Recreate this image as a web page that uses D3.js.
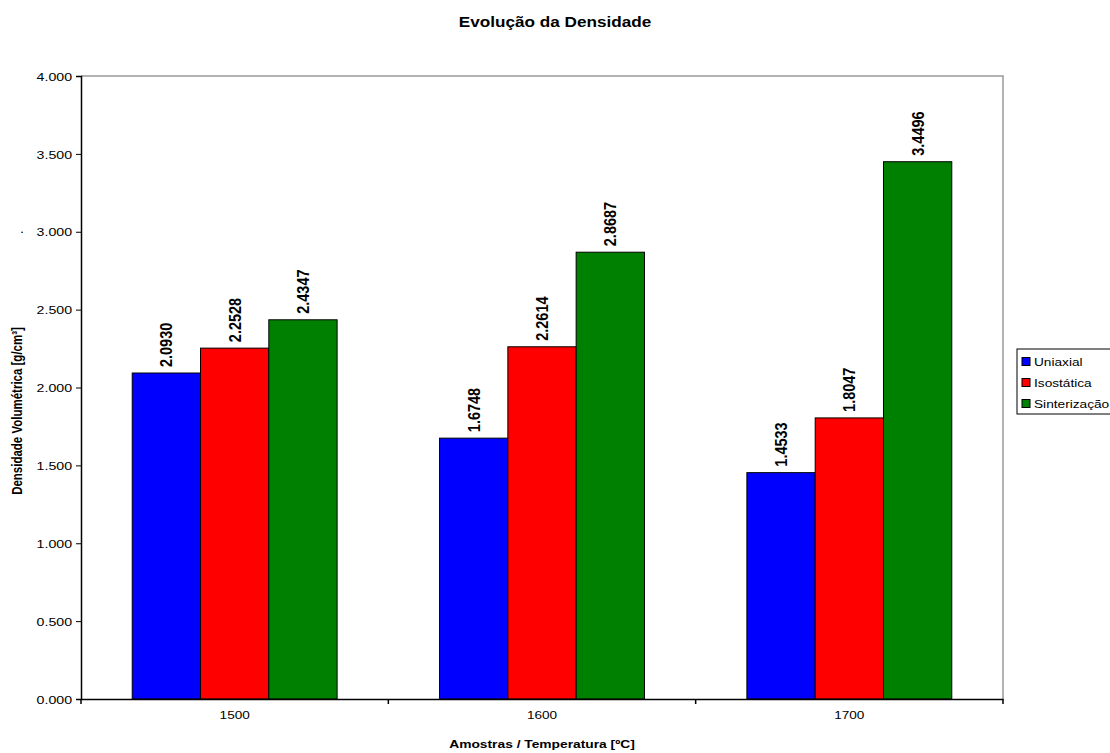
<!DOCTYPE html>
<html>
<head>
<meta charset="utf-8">
<script src="https://cdn.jsdelivr.net/npm/d3@7"></script>
<style>
  html, body { margin: 0; padding: 0; background: #fff; }
  svg { display: block; font-family: Arial, "Liberation Sans", sans-serif; }
</style>
</head>
<body>
<svg id="chart" width="1110" height="753"></svg>
<script>
// Density by sample temperature and process
const categories = ["1500", "1600", "1700"];
const seriesNames = ["Uniaxial", "Isostática", "Sinterização"];
const uniaxial = [2.0930, 1.6748, 1.4533];
const isostatica = [2.2528, 2.2614, 1.8047];
const sinterizacao = [2.4347, 2.8687, 3.4496];
const yTicks = [0, 0.5, 1, 1.5, 2, 2.5, 3, 3.5, 4];
const seriesColors = ["#0000FF", "#FF0000", "#008000"];

const seriesValues = [uniaxial, isostatica, sinterizacao];

// text in this chart is drawn slightly widened horizontally
const SX = 1.2;

const svg = d3.select("#chart");
const plot = { left: 81, right: 1003, top: 76, bottom: 699 };

const x = d3.scaleBand().domain(categories).range([plot.left, plot.right]).paddingInner(0).paddingOuter(0);
const bandW = x.bandwidth();
const barW = bandW / 4.5;
const xs = d3.scaleBand().domain(seriesNames).range([0, barW * 3]);
const groupOffset = (bandW - barW * 3) / 2;

const y = d3.scaleLinear().domain([0, 4]).range([plot.bottom, plot.top]);

function label(parent, px, py, txt, size, bold, anchor, rot) {
  return parent.append("text")
    .attr("transform", `translate(${px},${py}) scale(${SX},1)` + (rot ? ` rotate(${rot})` : ""))
    .attr("text-anchor", anchor || "start")
    .style("font-size", size + "px")
    .style("font-weight", bold ? "bold" : "normal")
    .attr("fill", "#000")
    .text(txt);
}

// plot frame (top and right edges)
svg.append("path")
  .attr("d", `M${plot.left},${plot.top}H${plot.right}V${plot.bottom}`)
  .attr("fill", "none").attr("stroke", "#999").attr("stroke-width", 1.5);

// bars
const rows = [];
categories.forEach((c, i) => seriesNames.forEach((s, j) => rows.push({ c, s, j, v: seriesValues[j][i] })));

const g = svg.append("g");
g.selectAll("rect").data(rows).join("rect")
  .attr("x", d => x(d.c) + groupOffset + xs(d.s))
  .attr("y", d => y(d.v))
  .attr("width", barW)
  .attr("height", d => y(0) - y(d.v))
  .attr("fill", d => seriesColors[d.j])
  .attr("stroke", "#000").attr("stroke-width", 1);

// value labels, vertical above each bar
rows.forEach(d => {
  const cx = x(d.c) + groupOffset + xs(d.s) + barW / 2;
  label(g, cx + 6, y(d.v) - 6, d.v.toFixed(4), 14.5, true, "start", -90);
});

// y axis
const yAxis = d3.axisLeft(y).tickValues(yTicks).tickFormat(d3.format(".3f")).tickSizeOuter(0).tickSize(5).tickPadding(0);
const ya = svg.append("g").attr("transform", `translate(${plot.left},0)`).call(yAxis);
ya.select(".domain").attr("stroke", "#000").attr("stroke-width", 1.5);
ya.selectAll(".tick line").attr("stroke", "#000");
ya.selectAll("text")
  .attr("x", 0).attr("dy", "0.35em")
  .attr("transform", `translate(-9,0) scale(${SX},1)`)
  .style("font-size", "11.8px").attr("fill", "#000");

// x axis with boundary ticks between categories
const xAxis = d3.axisBottom(x).tickSize(0).tickPadding(12);
const xa = svg.append("g").attr("transform", `translate(0,${plot.bottom})`).call(xAxis);
xa.select(".domain").attr("stroke", "#000").attr("stroke-width", 1.5);
xa.selectAll("text")
  .attr("transform", `scale(${SX},1)`)
  .style("font-size", "11.3px").attr("fill", "#000");
const bounds = categories.map(c => x(c)).concat([x(categories[categories.length - 1]) + bandW]);
xa.selectAll("line.sep").data(bounds).join("line")
  .attr("class", "sep")
  .attr("x1", d => d).attr("x2", d => d).attr("y1", 0).attr("y2", 5)
  .attr("stroke", "#000").attr("stroke-width", 1.5);

// titles
label(svg, 555, 27, "Evolução da Densidade", 14.3, true, "middle");
label(svg, (plot.left + plot.right) / 2, 748, "Amostras / Temperatura [ºC]", 11.5, true, "middle");
label(svg, 22, 411, "Densidade Volumétrica [g/cm³]", 11.5, true, "middle", -90);
label(svg, 20, 233, ".", 12, false, "start");

// legend
const lg = svg.append("g").attr("transform", "translate(1017,349)");
lg.append("rect").attr("width", 100).attr("height", 65).attr("fill", "#fff").attr("stroke", "#000").attr("stroke-width", 1);
seriesNames.forEach((s, i) => {
  const row = lg.append("g").attr("transform", `translate(5,${12.5 + i * 21})`);
  row.append("rect").attr("x", 0).attr("y", -4).attr("width", 8).attr("height", 8)
    .attr("fill", seriesColors[i]).attr("stroke", "#000").attr("stroke-width", 1);
  label(row, 12, 4.5, s, 11.4, false, "start");
});
</script>
</body>
</html>
